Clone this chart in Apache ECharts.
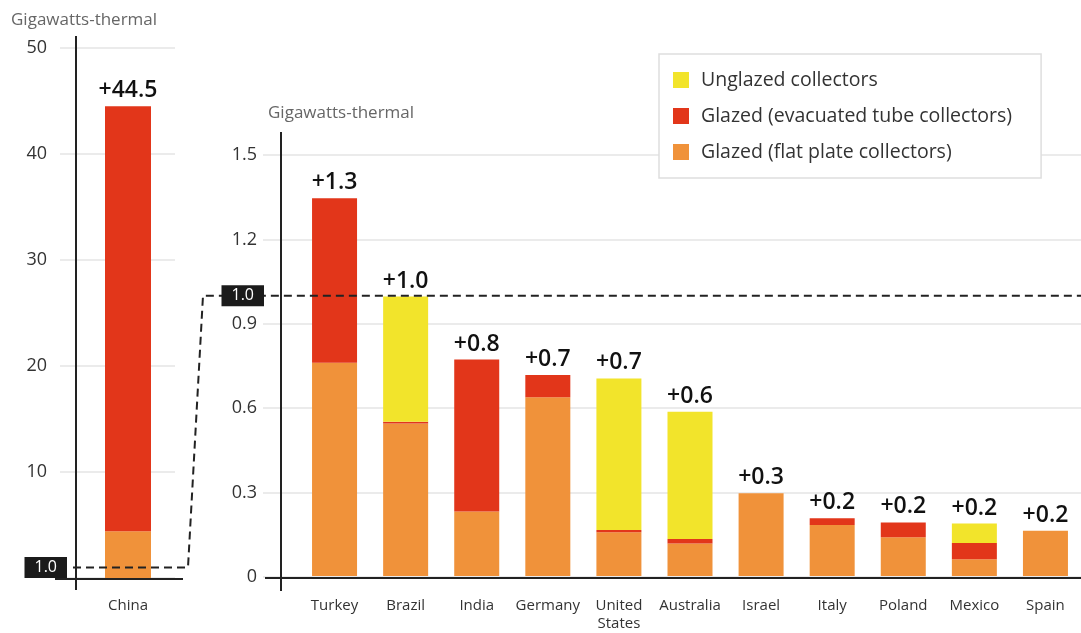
<!DOCTYPE html>
<html>
<head>
<meta charset="utf-8">
<script src="https://cdn.jsdelivr.net/npm/echarts@6/dist/echarts.min.js"></script>
<style>
html, body { margin: 0; padding: 0; background: #fff; }
#chart { width: 1081px; height: 633px; }
</style>
</head>
<body>
<div id="chart"></div>
<script>
// China panel (gigawatts-thermal)
const chinaName = ['China'];
const chinaFlat = [4.4];
const chinaTube = [40.1];
const chinaUnglazed = [0];
const chinaLabels = ['+44.5'];
const chinaTicks = [0, 10, 20, 30, 40, 50];

// the other countries
const countries = ['Turkey', 'Brazil', 'India', 'Germany', 'United\nStates', 'Australia', 'Israel', 'Italy', 'Poland', 'Mexico', 'Spain'];
const flatPlate = [0.76, 0.543, 0.23, 0.637, 0.156, 0.116, 0.295, 0.182, 0.138, 0.06, 0.161];
const evacTube  = [0.586, 0.007, 0.541, 0.079, 0.008, 0.016, 0, 0.024, 0.053, 0.058, 0];
const unglazed  = [0, 0.446, 0, 0, 0.54, 0.453, 0, 0, 0, 0.069, 0];
const totalLabels = ['+1.3', '+1.0', '+0.8', '+0.7', '+0.7', '+0.6', '+0.3', '+0.2', '+0.2', '+0.2', '+0.2'];
const rightTicks = ['0', '0.3', '0.6', '0.9', '1.2', '1.5'];

const refLevel = 1.0;
const refLabel = '1.0';

const names = ['Unglazed collectors', 'Glazed (evacuated tube collectors)', 'Glazed (flat plate collectors)'];
const colors = { unglazed: '#f2e42b', tube: '#e2361a', flat: '#f0923a' };
const font = '"Open Sans", Roboto, sans-serif';
const ink = '#222';

const rMin = +rightTicks[0], rMax = +rightTicks[rightTicks.length - 1];
const rStep = +rightTicks[1] - +rightTicks[0];

function valueLabel(arr) {
    return {
        show: true, position: 'top', distance: 4,
        fontFamily: font, fontSize: 23, fontWeight: 600, color: '#111',
        formatter: p => arr[p.dataIndex]
    };
}

var chart = echarts.init(document.getElementById('chart'));

let option = {
    animation: false,
    backgroundColor: '#fff',
    textStyle: { fontFamily: font },
    legend: {
        orient: 'vertical', left: 659, top: 54,
        data: names,
        icon: 'rect', itemWidth: 16, itemHeight: 16, itemGap: 16,
        padding: [16, 29, 16, 14],
        backgroundColor: '#fff', borderColor: '#dedede', borderWidth: 1.5,
        selectedMode: false,
        textStyle: { fontFamily: font, fontSize: 19.5, color: '#333', lineHeight: 16, padding: [0, 0, 0, 7] }
    },
    grid: [
        { left: 60, width: 115, top: 48, height: 530 },   // china gridlines
        { left: 81, width: 94, top: 48, height: 530 },    // china bar
        { left: 263, right: 0, top: 155, height: 422 },   // right gridlines
        { left: 299, width: 796.4, top: 155, height: 422 } // right bars
    ],
    xAxis: [
        { gridIndex: 0, type: 'value', min: 0, max: 1, show: false },
        { gridIndex: 1, type: 'category', data: chinaName,
          axisLine: { show: false }, axisTick: { show: false },
          axisLabel: { margin: 20, fontSize: 15, color: '#333', fontFamily: font } },
        { gridIndex: 2, type: 'value', min: 0, max: 1, show: false },
        { gridIndex: 3, type: 'category', data: countries,
          axisLine: { show: false }, axisTick: { show: false },
          axisLabel: { margin: 21, fontSize: 15, color: '#333', fontFamily: font, lineHeight: 18, interval: 0 } }
    ],
    yAxis: [
        { gridIndex: 0, type: 'value', min: chinaTicks[0], max: chinaTicks[chinaTicks.length - 1],
          interval: chinaTicks[1] - chinaTicks[0],
          axisLine: { show: false }, axisTick: { show: false },
          splitLine: { lineStyle: { color: '#e4e4e4', width: 1.5 } },
          axisLabel: { margin: 13, fontSize: 18, color: '#333', fontFamily: font,
                       formatter: v => v === 0 ? '' : String(v) } },
        { gridIndex: 1, type: 'value', min: chinaTicks[0], max: chinaTicks[chinaTicks.length - 1], show: false },
        { gridIndex: 2, type: 'value', min: rMin, max: rMax, interval: rStep,
          axisLine: { show: false }, axisTick: { show: false },
          splitLine: { lineStyle: { color: '#e4e4e4', width: 1.5 } },
          axisLabel: { margin: 6, fontSize: 18, color: '#333', fontFamily: font,
                       formatter: (v, i) => rightTicks[i] } },
        { gridIndex: 3, type: 'value', min: rMin, max: rMax, show: false }
    ],
    series: [
        { name: names[2], type: 'bar', xAxisIndex: 1, yAxisIndex: 1, stack: 'china', barWidth: 46,
          itemStyle: { color: colors.flat }, data: chinaFlat },
        { name: names[1], type: 'bar', xAxisIndex: 1, yAxisIndex: 1, stack: 'china', barWidth: 46,
          itemStyle: { color: colors.tube }, data: chinaTube },
        { name: names[0], type: 'bar', xAxisIndex: 1, yAxisIndex: 1, stack: 'china', barWidth: 46,
          itemStyle: { color: colors.unglazed }, data: chinaUnglazed, label: valueLabel(chinaLabels) },

        { name: names[2], type: 'bar', xAxisIndex: 3, yAxisIndex: 3, stack: 'c', barWidth: 45,
          itemStyle: { color: colors.flat }, data: flatPlate },
        { name: names[1], type: 'bar', xAxisIndex: 3, yAxisIndex: 3, stack: 'c', barWidth: 45,
          itemStyle: { color: colors.tube }, data: evacTube },
        { name: names[0], type: 'bar', xAxisIndex: 3, yAxisIndex: 3, stack: 'c', barWidth: 45,
          itemStyle: { color: colors.unglazed }, data: unglazed, label: valueLabel(totalLabels) }
    ]
};
chart.setOption(option);

// axis lines, baselines and the dashed 1.0 connector, placed from the axis scales
const yA = v => chart.convertToPixel({ yAxisIndex: 0 }, v);
const yC = v => chart.convertToPixel({ yAxisIndex: 2 }, v);
const line = (x1, y1, x2, y2, w) => ({
    type: 'line', z: 50, shape: { x1, y1, x2, y2 }, style: { stroke: ink, lineWidth: w || 2 }
});
const box = (x, y) => ({
    type: 'text', z: 60, x, y,
    style: { text: refLabel, fill: '#fff', font: '16px ' + font, backgroundColor: '#1b1b1b',
             padding: [3, 10, 2, 10], align: 'right', verticalAlign: 'middle' }
});
const caption = (x, y) => ({
    type: 'text', z: 60, x, y,
    style: { text: 'Gigawatts-thermal', fill: '#666', font: '17px ' + font, verticalAlign: 'middle' }
});

chart.setOption({
    graphic: [
        line(76, 36, 76, 590),
        line(55, yA(0) + 1, 183, yA(0) + 1),
        line(281, 132, 281, 591),
        line(265, yC(0) + 1, 1081, yC(0) + 1),
        { type: 'polyline', z: 55,
          shape: { points: [[73, yA(refLevel)], [188, yA(refLevel)], [203, yC(refLevel)], [1081, yC(refLevel)]] },
          style: { stroke: ink, lineWidth: 2, lineDash: [8, 5], fill: null } },
        box(67, yA(refLevel)),
        box(264, yC(refLevel)),
        caption(11, 20),
        caption(268, 113)
    ]
});
</script>
</body>
</html>
